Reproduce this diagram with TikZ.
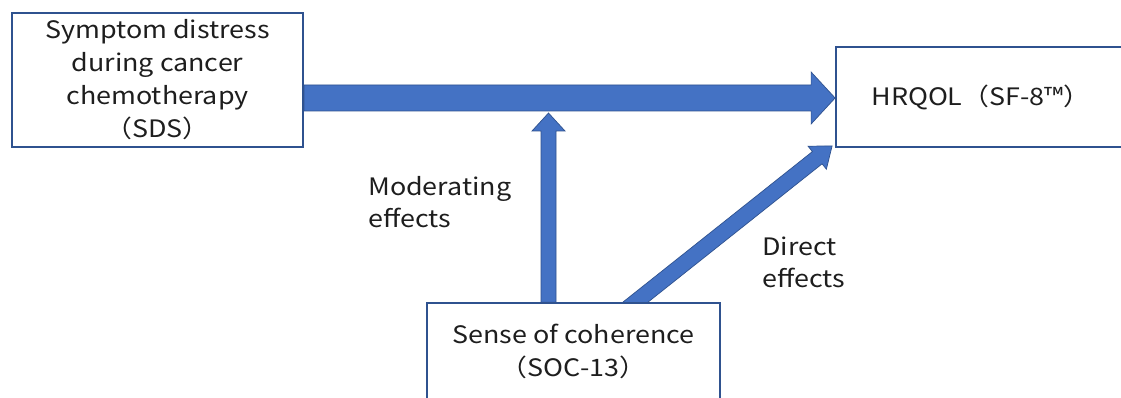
\documentclass[tikz,border=0pt]{standalone}
\usepackage{fontspec}
\setmainfont[FakeStretch=1.12]{Noto Sans CJK JP}
\usetikzlibrary{calc}
\pgfdeclarelayer{bg}
\pgfsetlayers{bg,main}
\definecolor{boxline}{HTML}{2F528F}
\definecolor{arrowfill}{HTML}{4472C4}
\definecolor{txt}{HTML}{1E1E1E}
\tikzset{
  boxnode/.style={draw=boxline, line width=1.8pt, fill=white, rectangle, inner sep=0pt,
    text=txt, align=center, font=\fontsize{24}{33}\selectfont},
  labelnode/.style={text=txt, align=left, inner sep=0pt, anchor=west,
    font=\fontsize{24}{32}\selectfont},
  fatarrowstyle/.style={fill=arrowfill, draw=boxline, line width=0.7pt, line join=miter},
}
% #1 start, #2 tip, #3 half shaft width, #4 half head width, #5 head length
\newcommand\fatarrowdraw[5]{%
  \coordinate (fab) at ($(#2)!#5!(#1)$);
  \draw[fatarrowstyle] ($(#1)!#3!90:(#2)$) -- ($(fab)!#3!90:(#2)$) -- ($(fab)!#4!90:(#2)$)
    -- (#2) -- ($(fab)!#4!-90:(#2)$) -- ($(fab)!#3!-90:(#2)$) -- ($(#1)!#3!-90:(#2)$) -- cycle;
}
\begin{document}
\begin{tikzpicture}[x=1pt,y=-1pt]
\useasboundingbox (0,0) rectangle (1121,398);

\node[boxnode, minimum width=291pt, minimum height=134pt] (sds) at (157.5,80)
  {Symptom distress\\during cancer\\chemotherapy\\（SDS）};
\node[boxnode, minimum width=290pt, minimum height=100pt] (hrq) at (981,97)
  {HRQOL（SF-8™）};
\node[boxnode, minimum width=293pt, minimum height=97pt] (soc) at (573.5,351.5)
  {Sense of coherence\\（SOC-13）};

\begin{pgfonlayer}{bg}
\fill[white] (0,0) rectangle (1121,398);

\coordinate (hstart) at (sds.east |- 0,98);
\coordinate (htip) at (hrq.west |- 0,98);
\fatarrowdraw{hstart}{htip}{13pt}{26pt}{24pt}

\coordinate (modtip) at (548.5,113);
\coordinate (modstart) at (modtip |- soc.north);
\fatarrowdraw{modstart}{modtip}{7.5pt}{16.5pt}{18pt}

\coordinate (dirtip) at ($(hrq.south west)+(-3,-2)$);
\coordinate (dirbase) at ($(soc.north)+(62,0)$);
\coordinate (dirstart) at ($(dirbase)!-20pt!(dirtip)$);
\fatarrowdraw{dirstart}{dirtip}{7.8pt}{14.7pt}{19pt}
\end{pgfonlayer}

\node[labelnode] (modlabel) at (368,202) {Moderating\\effects};
\node[labelnode] (dirlabel) at (762,262.5) {Direct\\effects};
\end{tikzpicture}
\end{document}
